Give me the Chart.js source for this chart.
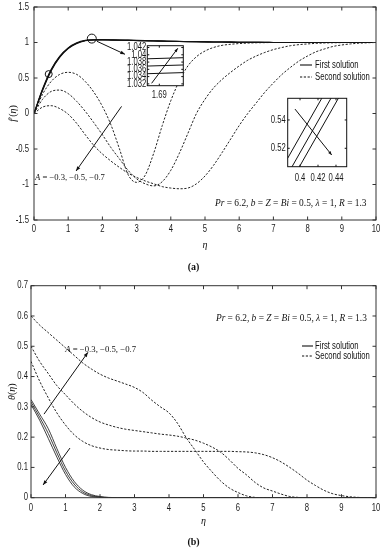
<!DOCTYPE html>
<html><head><meta charset="utf-8">
<script src="https://cdn.jsdelivr.net/npm/chart.js@4.4.1/dist/chart.umd.min.js"></script>
<style>body{margin:0;background:#fff}#wrap{position:relative;width:387px;height:550px;overflow:hidden;background:#fff}canvas{position:absolute}</style>
</head><body><div id="wrap">
<canvas id="cTop" width="387" height="275" style="left:0;top:0"></canvas>
<canvas id="cBot" width="387" height="275" style="left:0;top:275px"></canvas>
<canvas id="cIn1" width="90" height="65" style="left:100px;top:38px"></canvas>
<canvas id="cIn2" width="90" height="95" style="left:265px;top:92px"></canvas>
</div>
<script>
// ---------- DATA ----------
const etaGrid = [0,0.25,0.5,0.75,1,1.25,1.5,1.75,2,2.25,2.5,2.75,3,3.25,3.5,3.75,4,4.25,4.5,4.75,5,5.25,5.5,5.75,6,6.25,6.5,6.75,7,7.25,7.5,7.75,8,8.25,8.5,8.75,9,9.25,9.5,9.75,10];

// (a) f'(eta), first solution, A = -0.3, -0.5, -0.7
const fFirstA03 = [0,0.345,0.62,0.805,0.925,0.995,1.03,1.039,1.04,1.038,1.036,1.033,1.03,1.027,1.024,1.021,1.018,1.016,1.014,1.012,1.01,1.008,1.007,1.005,1.004,1.003,1.002,1.002,1.001,1.001,1.001,1,1,1,1,1,1,1,1,1,1];
const fFirstA05 = [0,0.335,0.61,0.797,0.92,0.99,1.027,1.037,1.038,1.036,1.034,1.031,1.028,1.025,1.022,1.02,1.017,1.015,1.013,1.011,1.009,1.008,1.006,1.005,1.004,1.003,1.002,1.002,1.001,1.001,1.001,1,1,1,1,1,1,1,1,1,1];
const fFirstA07 = [0,0.325,0.6,0.79,0.915,0.985,1.024,1.035,1.036,1.034,1.032,1.03,1.027,1.024,1.021,1.019,1.016,1.014,1.012,1.01,1.009,1.007,1.006,1.005,1.004,1.003,1.002,1.001,1.001,1.001,1.001,1,1,1,1,1,1,1,1,1,1];
// (a) f'(eta), second solution
const fSecondA03 = [0,0.27,0.45,0.55,0.58,0.55,0.45,0.3,0.1,-0.16,-0.5,-0.86,-0.97,-0.87,-0.56,-0.17,0.18,0.46,0.67,0.8,0.88,0.93,0.96,0.975,0.985,0.992,0.996,0.998,1,1,1,1,1,1,1,1,1,1,1,1,1];
const fSecondA05 = [0,0.2,0.31,0.33,0.28,0.17,0.03,-0.13,-0.3,-0.48,-0.64,-0.8,-0.92,-0.99,-1.02,-0.96,-0.8,-0.56,-0.28,0,0.2,0.36,0.48,0.58,0.67,0.75,0.81,0.86,0.9,0.93,0.955,0.97,0.98,0.988,0.993,0.996,0.998,1,1,1,1];
const fSecondA07 = [0,0.09,0.11,0.07,-0.01,-0.14,-0.3,-0.45,-0.57,-0.67,-0.76,-0.84,-0.9,-0.95,-0.99,-1.03,-1.05,-1.06,-1.05,-0.99,-0.88,-0.73,-0.55,-0.36,-0.17,0,0.15,0.3,0.43,0.55,0.65,0.74,0.81,0.87,0.91,0.945,0.965,0.98,0.99,0.996,1];

// (b) theta(eta), first solution
const tFirstA03 = [0.324,0.276,0.228,0.162,0.1,0.054,0.025,0.01,0.004,0.001,0,0,0,0,0,0,0,0,0,0,0,0,0,0,0,0,0,0,0,0,0,0,0,0,0,0,0,0,0,0,0];
const tFirstA05 = [0.316,0.266,0.212,0.148,0.088,0.045,0.019,0.007,0.002,0.0005,0,0,0,0,0,0,0,0,0,0,0,0,0,0,0,0,0,0,0,0,0,0,0,0,0,0,0,0,0,0,0];
const tFirstA07 = [0.308,0.256,0.196,0.134,0.077,0.036,0.014,0.004,0.001,0,0,0,0,0,0,0,0,0,0,0,0,0,0,0,0,0,0,0,0,0,0,0,0,0,0,0,0,0,0,0,0];
// (b) theta(eta), second solution
const tSecondA03 = [0.45,0.385,0.33,0.28,0.24,0.208,0.186,0.172,0.164,0.159,0.157,0.155,0.154,0.154,0.153,0.153,0.153,0.153,0.153,0.153,0.153,0.153,0.153,0.153,0.152,0.151,0.148,0.142,0.132,0.118,0.1,0.08,0.058,0.04,0.024,0.013,0.007,0.003,0.001,0,0];
const tSecondA05 = [0.5,0.45,0.41,0.37,0.34,0.31,0.285,0.265,0.25,0.24,0.232,0.226,0.222,0.218,0.214,0.21,0.207,0.203,0.197,0.19,0.18,0.167,0.15,0.125,0.097,0.075,0.05,0.032,0.022,0.012,0.004,0.001,0,0,0,0,0,0,0,0,0];
const tSecondA07 = [0.6,0.57,0.545,0.52,0.495,0.47,0.445,0.425,0.408,0.395,0.385,0.375,0.364,0.347,0.322,0.3,0.28,0.245,0.198,0.158,0.118,0.085,0.055,0.032,0.017,0.006,0.001,0,0,0,0,0,0,0,0,0,0,0,0,0,0];

// inset (a-1): zoom near eta = 1.69
const in1X = [1.68, 1.70];
const in1A03 = [1.0388, 1.0392];
const in1A05 = [1.0368, 1.0372];
const in1A07 = [1.0347, 1.0351];
// inset (a-2): zoom near eta = 0.42
const in2X = [0.38, 0.46];
const in2A03 = [0.5060, 0.5953];
const in2A05 = [0.4946, 0.5839];
const in2A07 = [0.4854, 0.5747];

// ticks
const xTickVals = [0,1,2,3,4,5,6,7,8,9,10];
const xTickLabels = ['0','1','2','3','4','5','6','7','8','9','10'];
const yTickValsA = [-1.5,-1,-0.5,0,0.5,1,1.5];
const yTickLabelsA = ['-1.5','-1','-0.5','0','0.5','1','1.5'];
const yTickValsB = [0,0.1,0.2,0.3,0.4,0.5,0.6,0.7];
const yTickLabelsB = ['0','0.1','0.2','0.3','0.4','0.5','0.6','0.7'];
const in1XTicks = [1.69], in1XLabels = ['1.69'];
const in1YTicks = [1.032,1.034,1.036,1.038,1.04,1.042];
const in1YLabels = ['1.032','1.034','1.036','1.038','1.04','1.042'];
const in2XTicks = [0.4,0.42,0.44], in2XLabels = ['0.4','0.42','0.44'];
const in2YTicks = [0.52,0.54], in2YLabels = ['0.52','0.54'];

const legendLabels = ['First solution','Second solution'];

// ---------- HELPERS ----------
const NARROW = 0.77;
const SANS = '"Liberation Sans", Arial, sans-serif';
const SERIF = '"Liberation Serif", "Times New Roman", serif';
function nText(ctx, s, x, y, align, size) {
  ctx.save(); ctx.font = size + 'px ' + SANS; ctx.textBaseline = 'middle';
  ctx.translate(x, y); ctx.scale(NARROW, 1); ctx.textAlign = align; ctx.fillText(s, 0, 0); ctx.restore();
}
function fontOf(st, size) { return (st === 'i' ? 'italic ' : st === 'b' ? 'bold ' : '') + size + 'px ' + SERIF; }
function segWidth(ctx, segs, size) { let w = 0; for (const [t, st] of segs) { ctx.font = fontOf(st, size); w += ctx.measureText(t).width; } return w; }
function mathText(ctx, segs, x, y, size, align, targetW) {
  ctx.save(); ctx.textBaseline = 'middle'; ctx.textAlign = 'left';
  if (targetW) size = size * targetW / segWidth(ctx, segs, size);
  const w = segWidth(ctx, segs, size);
  let cx = align === 'center' ? x - w / 2 : align === 'right' ? x - w : x;
  for (const [t, st] of segs) { ctx.font = fontOf(st, size); ctx.fillText(t, cx, y); cx += ctx.measureText(t).width; }
  ctx.restore();
}
function arrow(ctx, x1, y1, x2, y2, head) {
  ctx.beginPath(); ctx.moveTo(x1, y1); ctx.lineTo(x2, y2); ctx.stroke();
  const a = Math.atan2(y2 - y1, x2 - x1);
  ctx.beginPath(); ctx.moveTo(x2, y2);
  ctx.lineTo(x2 - head * Math.cos(a - 0.38), y2 - head * Math.sin(a - 0.38));
  ctx.lineTo(x2 - head * Math.cos(a + 0.38), y2 - head * Math.sin(a + 0.38));
  ctx.closePath(); ctx.fill();
}

function makeDecor(o) {
  return {
    id: 'decor',
    beforeDatasetsDraw(chart) {
      if (!o.bg) return;
      const a = chart.chartArea, ctx = chart.ctx;
      ctx.save(); ctx.fillStyle = '#fff'; ctx.fillRect(a.left, a.top, a.right - a.left, a.bottom - a.top); ctx.restore();
    },
    afterDraw(chart) {
      const ctx = chart.ctx, a = chart.chartArea, xs = chart.scales.x, ys = chart.scales.y;
      const P = (p) => [xs.getPixelForValue(p[0]), ys.getPixelForValue(p[1])];
      ctx.save();
      ctx.strokeStyle = o.frameColor; ctx.lineWidth = o.frameWidth;
      ctx.strokeRect(a.left, a.top, a.right - a.left, a.bottom - a.top);
      ctx.fillStyle = '#1a1a1a';
      o.xTicks.forEach((v, i) => {
        const px = xs.getPixelForValue(v);
        ctx.beginPath(); ctx.moveTo(px, a.bottom); ctx.lineTo(px, a.bottom - o.tickLen);
        ctx.moveTo(px, a.top); ctx.lineTo(px, a.top + o.tickLen); ctx.stroke();
        nText(ctx, o.xLabels[i], px, a.bottom + o.xGap, 'center', o.fs);
      });
      o.yTicks.forEach((v, i) => {
        const py = ys.getPixelForValue(v);
        ctx.beginPath(); ctx.moveTo(a.left, py); ctx.lineTo(a.left + o.tickLen, py);
        ctx.moveTo(a.right, py); ctx.lineTo(a.right - o.tickLen, py); ctx.stroke();
        nText(ctx, o.yLabels[i], a.left - o.yGap, py, 'right', o.fs);
      });
      ctx.fillStyle = '#111'; ctx.strokeStyle = '#111'; ctx.lineWidth = 1;
      (o.arrows || []).forEach(ar => { const p = P(ar.from), q = P(ar.to); arrow(ctx, p[0], p[1], q[0], q[1], ar.head || 5); });
      (o.circles || []).forEach(c => { const p = P(c.at); ctx.beginPath(); ctx.arc(p[0], p[1], c.r, 0, Math.PI * 2); ctx.stroke(); });
      (o.texts || []).forEach(t => { const p = P(t.at); mathText(ctx, t.segs, p[0], p[1], t.size, t.align || 'left', t.width); });
      if (o.xTitle) mathText(ctx, o.xTitle.segs, (a.left + a.right) / 2, a.bottom + o.xTitle.dy, o.xTitle.size, 'center');
      if (o.caption) mathText(ctx, o.caption.segs, o.caption.x, a.bottom + o.caption.dy, o.caption.size, 'center');
      if (o.yTitle) {
        ctx.save(); ctx.translate(o.yTitle.x, o.yTitle.y != null ? o.yTitle.y : (a.top + a.bottom) / 2); ctx.rotate(-Math.PI / 2);
        mathText(ctx, o.yTitle.segs, 0, 0, o.yTitle.size, 'center'); ctx.restore();
      }
      if (o.legend) {
        const L = o.legend;
        L.items.forEach((it, i) => {
          const y = L.y + i * L.rowH;
          ctx.save(); ctx.lineWidth = 1.1; ctx.strokeStyle = '#111'; ctx.setLineDash(it.dash || []);
          ctx.beginPath(); ctx.moveTo(L.x + (it.dx || 0), y); ctx.lineTo(L.x + L.len, y); ctx.stroke(); ctx.restore();
          nText(ctx, it.text, L.x + L.len + L.gap + (it.tdx || 0), y, 'left', L.fs);
        });
      }
      ctx.restore();
    }
  };
}

const pts = (xs, ys) => xs.map((x, i) => ({ x, y: ys[i] }));
const solidDs = (ys, w = 1.1, xs = etaGrid) => ({ data: pts(xs, ys), borderColor: '#111', borderWidth: w, pointRadius: 0, cubicInterpolationMode: 'monotone', fill: false });
const dashDs = (ys, xs = etaGrid) => ({ data: pts(xs, ys), borderColor: '#222', borderWidth: 1, borderDash: [2.2, 1.6], pointRadius: 0, cubicInterpolationMode: 'monotone', fill: false });
const lineDs = (ys, xs) => ({ data: pts(xs, ys), borderColor: '#111', borderWidth: 1, pointRadius: 0, tension: 0, fill: false });

function makeChart(id, datasets, sc, lay, deco) {
  return new Chart(document.getElementById(id), {
    type: 'line',
    data: { datasets },
    options: {
      responsive: false, animation: false, devicePixelRatio: 1, events: [],
      layout: { padding: lay.pad },
      plugins: { legend: { display: false }, tooltip: { enabled: false } },
      scales: {
        x: { type: 'linear', min: sc.xmin, max: sc.xmax, ticks: { display: false }, grid: { display: false }, border: { display: false }, afterFit: s => { s.height = lay.xH; } },
        y: { type: 'linear', min: sc.ymin, max: sc.ymax, ticks: { display: false }, grid: { display: false }, border: { display: false }, afterFit: s => { s.width = lay.yW; } }
      }
    },
    plugins: [makeDecor(deco)]
  });
}

const prSegs = [['Pr','i'],[' = 6.2, ','r'],['b','i'],[' = ','r'],['Z','i'],[' = ','r'],['Bi','i'],[' = 0.5, ','r'],['λ','i'],[' = 1, ','r'],['R','i'],[' = 1.3','r']];
const aSegs = [['A','i'],[' = −0.3, −0.5, −0.7','r']];

// ---------- (a) ----------
makeChart('cTop',
  [solidDs(fFirstA03), solidDs(fFirstA05), solidDs(fFirstA07), dashDs(fSecondA03), dashDs(fSecondA05), dashDs(fSecondA07)],
  { xmin: 0, xmax: 10, ymin: -1.5, ymax: 1.5 },
  { pad: { left: 0, right: 11, top: 7, bottom: 0 }, yW: 34, xH: 55 },
  {
    frameColor: '#333', frameWidth: 1, tickLen: 3.5, fs: 10, xGap: 9.5, yGap: 5,
    xTicks: xTickVals, xLabels: xTickLabels, yTicks: yTickValsA, yLabels: yTickLabelsA,
    arrows: [{ from: [2.56, 0.1], to: [1.23, -0.81] }, { from: [1.84, 1.017], to: [2.66, 0.834] }],
    circles: [{ at: [0.43, 0.555], r: 3.5 }, { at: [1.69, 1.055], r: 4.5 }],
    texts: [{ segs: aSegs, at: [0.03, -0.9], size: 9, width: 70 }, { segs: prSegs, at: [5.29, -1.263], size: 9, width: 152 }],
    xTitle: { segs: [['η','i']], dy: 25, size: 10 },
    caption: { segs: [['(a)','b']], x: 193.5, dy: 47, size: 10 },
    yTitle: { segs: [['f','i'],['′(','r'],['η','i'],[')','r']], x: 13, size: 10 },
    legend: { x: 300, y: 65, len: 12, gap: 3, rowH: 12, fs: 10, items: [{ text: legendLabels[0] }, { text: legendLabels[1], dash: [2.2, 1.6] }] }
  });

// ---------- (b) ----------
makeChart('cBot',
  [solidDs(tFirstA03, 0.8), solidDs(tFirstA05, 0.8), solidDs(tFirstA07, 0.8), dashDs(tSecondA03), dashDs(tSecondA05), dashDs(tSecondA07)],
  { xmin: 0, xmax: 10, ymin: 0, ymax: 0.7 },
  { pad: { left: 0, right: 11, top: 10.7, bottom: 0 }, yW: 31, xH: 52.3 },
  {
    frameColor: '#333', frameWidth: 1, tickLen: 3.5, fs: 10, xGap: 10.5, yGap: 3,
    xTicks: xTickVals, xLabels: xTickLabels, yTicks: yTickValsB, yLabels: yTickLabelsB,
    arrows: [{ from: [0.377, 0.276], to: [1.65, 0.48] }, { from: [1.13, 0.164], to: [0.35, 0.042] }],
    texts: [{ segs: aSegs, at: [0.99, 0.49], size: 9, width: 71 }, { segs: prSegs, at: [5.36, 0.593], size: 9, width: 151 }],
    xTitle: { segs: [['η','i']], dy: 23.5, size: 10 },
    caption: { segs: [['(b)','b']], x: 193.5, dy: 44.5, size: 10 },
    yTitle: { segs: [['θ','i'],['(','r'],['η','i'],[')','r']], x: 12, size: 10 },
    legend: { x: 302, y: 71, len: 11, gap: 2, rowH: 10, fs: 10, items: [{ text: legendLabels[0] }, { text: legendLabels[1], dash: [2.2, 1.6] }] }
  });

// ---------- insets ----------
makeChart('cIn1',
  [lineDs(in1A03, in1X), lineDs(in1A05, in1X), lineDs(in1A07, in1X)],
  { xmin: 1.685, xmax: 1.70, ymin: 1.0315, ymax: 1.0425 },
  { pad: { left: 0, right: 6.7, top: 7.7, bottom: 0 }, yW: 47.3, xH: 17.3 },
  {
    bg: true, frameColor: '#111', frameWidth: 1, tickLen: 2, fs: 10, xGap: 9.3, yGap: 1,
    xTicks: in1XTicks, xLabels: in1XLabels, yTicks: in1YTicks, yLabels: in1YLabels,
    arrows: [{ from: [1.6868, 1.03216], to: [1.6977, 1.04178], head: 4 }]
  });

makeChart('cIn2',
  [lineDs(in2A03, in2X), lineDs(in2A05, in2X), lineDs(in2A07, in2X)],
  { xmin: 0.3863, xmax: 0.4519, ymin: 0.507, ymax: 0.5553 },
  { pad: { left: 0, right: 8.3, top: 6.3, bottom: 0 }, yW: 22.7, xH: 20.3 },
  {
    bg: true, frameColor: '#111', frameWidth: 1, tickLen: 2, fs: 10, xGap: 11.6, yGap: 2,
    xTicks: in2XTicks, xLabels: in2XLabels, yTicks: in2YTicks, yLabels: in2YLabels,
    arrows: [{ from: [0.3944, 0.5477], to: [0.4352, 0.5153], head: 4 }]
  });
</script>
</body></html>
